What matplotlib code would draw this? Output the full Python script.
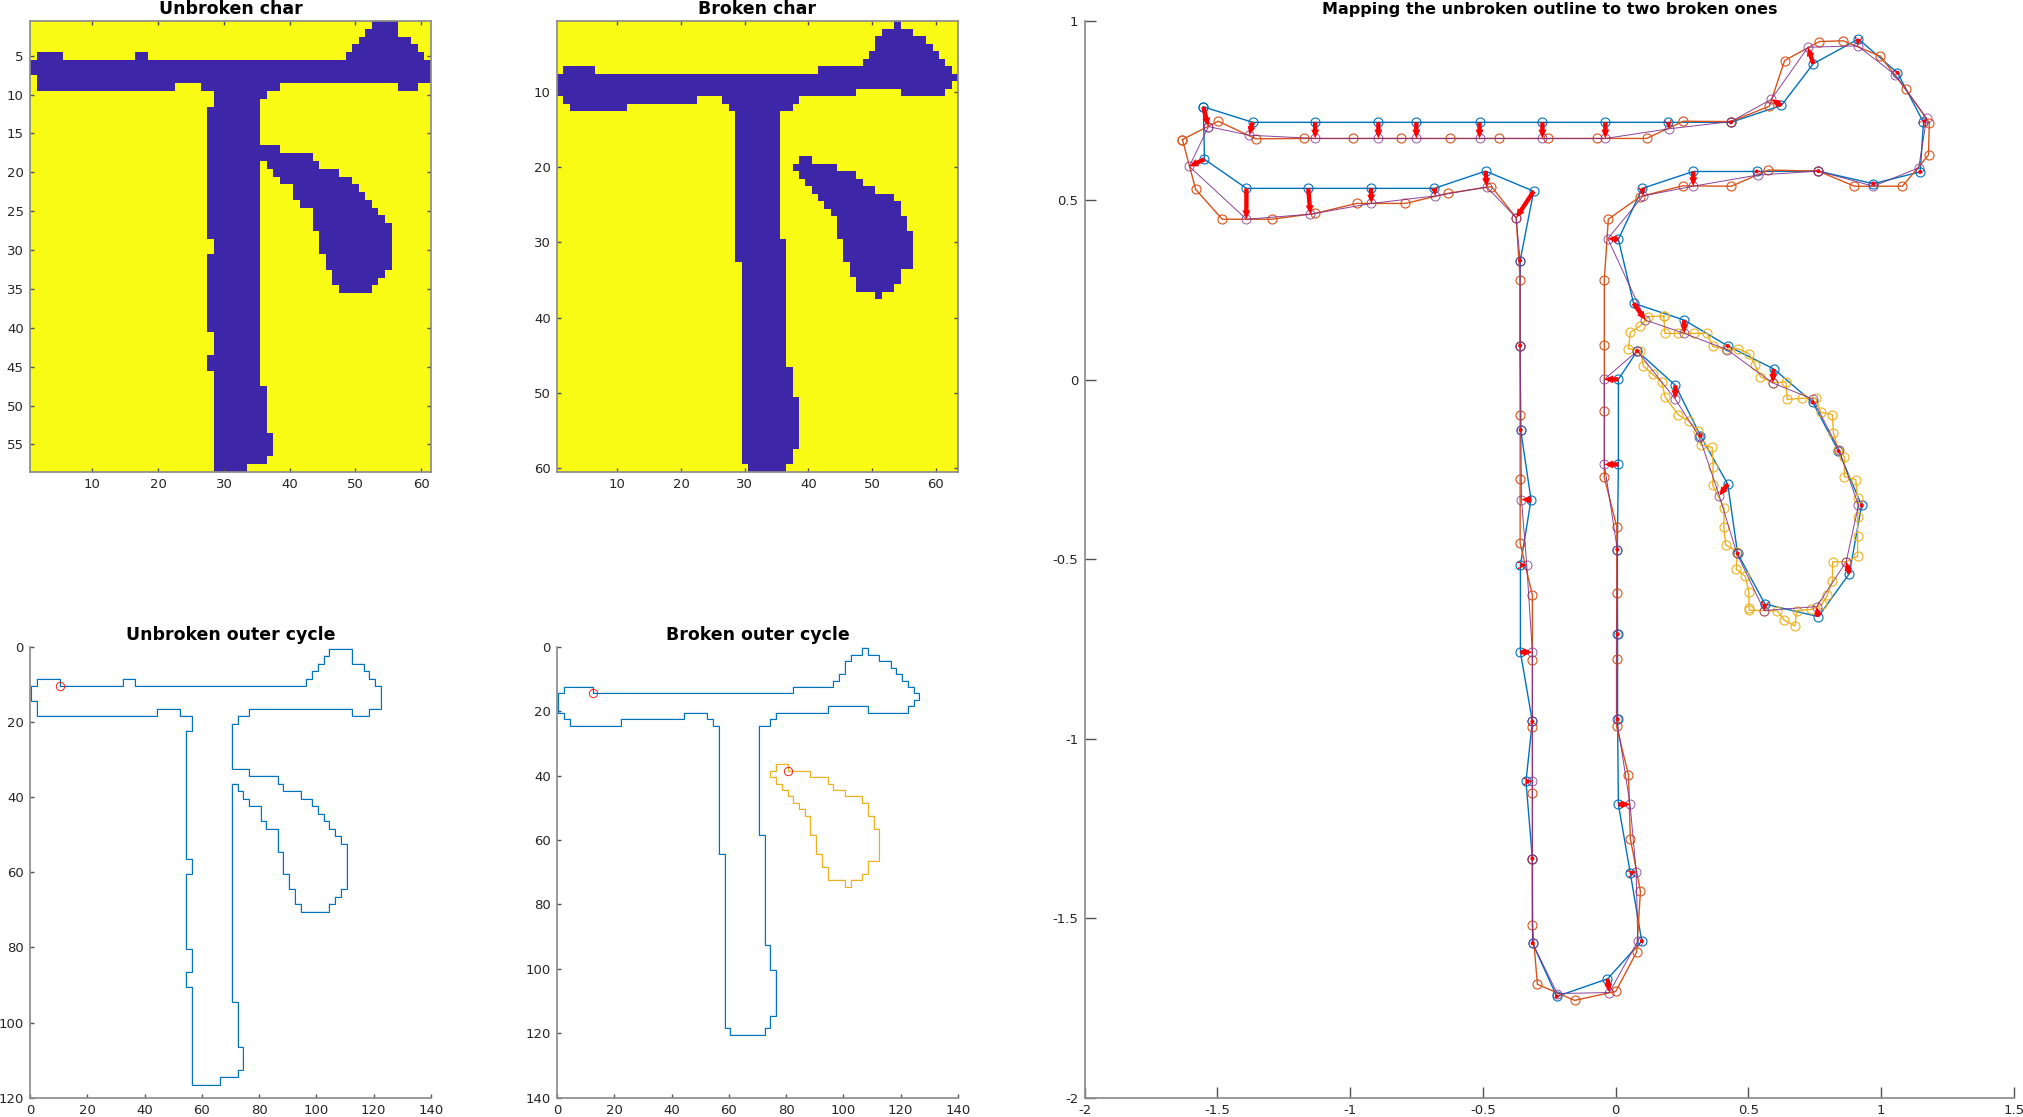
import numpy as np
import matplotlib
matplotlib.use("Agg")
import matplotlib.pyplot as plt
from matplotlib.colors import ListedColormap

plt.rcParams['font.family'] = ['DejaVu Sans']
plt.rcParams['axes.unicode_minus'] = False

# Pixel runs of the dark strokes: (first row, last row, first col, last col), 1-based
unbroken_runs = [
    (1,1,53,56),(2,2,52,56),(3,3,51,58),(4,4,50,59),(5,5,2,5),(5,5,17,18),(5,5,49,60),
    (6,7,1,61),(8,8,2,61),(9,9,2,22),(9,9,27,38),(9,9,57,59),(10,10,29,36),(11,11,29,35),
    (12,28,28,35),(29,30,29,35),(31,40,28,35),(41,43,29,35),(44,45,28,35),(46,47,29,35),
    (48,53,29,36),(54,56,29,37),(57,57,29,36),(58,58,29,33),
    (17,17,36,38),(18,18,36,43),(19,19,37,44),(20,20,38,47),(21,21,39,49),(22,22,41,50),
    (23,23,41,51),(24,24,42,52),(25,25,44,53),(26,26,44,54),(27,27,44,55),(28,30,45,55),
    (31,32,46,55),(33,33,47,54),(34,34,47,53),(35,35,48,52),
]
broken_runs = [
    (1,1,54,54),(2,2,52,56),(3,3,51,58),(4,4,51,59),(5,5,50,60),(6,6,49,61),(7,7,2,6),
    (7,7,42,62),(8,8,1,63),(9,9,1,62),(10,10,1,47),(10,10,55,61),(11,11,2,22),(11,11,27,38),
    (12,12,3,11),(12,12,28,37),(13,29,29,35),(30,32,29,36),(33,46,30,36),(47,50,30,37),
    (51,57,30,38),(58,59,30,37),(60,60,31,36),
    (19,19,39,40),(20,20,38,44),(21,21,39,47),(22,22,40,48),(23,23,41,50),(24,24,42,53),
    (25,25,43,54),(26,26,44,54),(27,28,45,55),(29,29,45,56),(30,32,46,56),(33,33,47,56),
    (34,34,47,54),(35,35,48,54),(36,36,48,53),(37,37,51,51),
]
unbroken_shape = (58, 61)
broken_shape = (60, 63)

# Cycle start points in outline coordinates
unbroken_starts = [(10.5, 10.5)]
broken_starts = [(12.5, 14.5), (80.5, 38.5)]

# Unbroken outline samples
blue_x = [-1.553,-1.367,-1.132,-0.894,-0.751,-0.513,-0.276,-0.039,0.198,0.434,0.624,0.744,0.914,
          1.061,1.159,1.147,0.970,0.763,0.531,0.292,0.100,0.010,0.067,0.258,0.422,0.595,0.742,
          0.839,0.926,0.880,0.763,0.562,0.459,0.422,0.319,0.225,0.081,0.010,0.010,0.006,0.007,
          0.007,0.010,0.055,0.098,-0.031,-0.222,-0.313,-0.314,-0.338,-0.314,-0.359,-0.359,
          -0.319,-0.358,-0.360,-0.360,-0.309,-0.490,-0.683,-0.922,-1.158,-1.391,-1.549]
blue_y = [0.760,0.717,0.717,0.717,0.717,0.717,0.717,0.717,0.717,0.717,0.764,0.880,0.949,
          0.855,0.717,0.579,0.546,0.581,0.580,0.580,0.533,0.391,0.213,0.166,0.094,0.030,-0.063,
          -0.199,-0.350,-0.540,-0.660,-0.625,-0.484,-0.291,-0.156,-0.016,0.080,0.001,-0.236,-0.473,-0.709,
          -0.946,-1.183,-1.375,-1.564,-1.669,-1.718,-1.570,-1.334,-1.119,-0.952,-0.759,-0.517,
          -0.334,-0.140,0.095,0.332,0.525,0.581,0.533,0.533,0.533,0.533,0.614]

# Mapped outline samples (same order as the unbroken ones)
mapped_x = [-1.534,-1.380,-1.132,-0.894,-0.751,-0.513,-0.276,-0.039,0.202,0.434,0.586,0.724,0.911,
            1.053,1.171,1.141,0.970,0.763,0.534,0.292,0.103,-0.030,0.112,0.258,0.419,0.591,0.742,
            0.842,0.914,0.868,0.757,0.559,0.456,0.390,0.315,0.224,0.081,-0.043,-0.043,0.006,0.004,
            0.004,0.054,0.077,0.083,-0.024,-0.220,-0.313,-0.314,-0.314,-0.314,-0.314,-0.335,
            -0.355,-0.357,-0.360,-0.360,-0.375,-0.486,-0.679,-0.920,-1.150,-1.391,-1.606]
mapped_y = [0.705,0.681,0.672,0.672,0.672,0.672,0.672,0.672,0.699,0.719,0.781,0.926,0.930,
            0.849,0.728,0.590,0.539,0.581,0.570,0.539,0.512,0.393,0.166,0.129,0.084,-0.009,-0.054,
            -0.197,-0.350,-0.507,-0.632,-0.643,-0.484,-0.323,-0.159,-0.054,0.080,0.001,-0.236,-0.473,-0.709,
            -0.946,-1.183,-1.370,-1.564,-1.707,-1.710,-1.570,-1.334,-1.119,-0.952,-0.759,-0.517,
            -0.334,-0.140,0.095,0.332,0.451,0.537,0.512,0.491,0.461,0.447,0.594]

# Broken main stroke samples
main_x = [-1.632,-1.497,-1.356,-1.173,-0.988,-0.807,-0.623,-0.438,-0.254,-0.069,0.116,0.255,0.434,
          0.579,0.636,0.767,0.857,0.997,1.092,1.181,1.178,1.080,0.899,0.763,0.575,0.436,0.252,
          0.092,-0.028,-0.043,-0.043,-0.043,-0.043,0.004,0.004,0.003,0.003,0.048,0.055,0.093,
          0.079,0.000,-0.155,-0.295,-0.314,-0.314,-0.314,-0.314,-0.314,-0.314,-0.360,-0.360,
          -0.360,-0.360,-0.360,-0.375,-0.468,-0.633,-0.792,-0.976,-1.133,-1.296,-1.482,-1.582]
main_y = [0.669,0.720,0.671,0.672,0.672,0.672,0.672,0.672,0.672,0.672,0.672,0.720,0.719,
          0.762,0.889,0.942,0.944,0.901,0.809,0.716,0.626,0.539,0.539,0.581,0.584,0.539,0.540,
          0.510,0.447,0.279,0.097,-0.087,-0.272,-0.410,-0.595,-0.779,-0.965,-1.101,-1.278,-1.425,
          -1.594,-1.704,-1.729,-1.684,-1.519,-1.334,-1.152,-0.968,-0.782,-0.600,-0.456,-0.276,
          -0.097,0.095,0.277,0.451,0.538,0.519,0.491,0.491,0.463,0.447,0.447,0.530]

# Broken blob samples
blob_x = [0.181,0.123,0.093,0.055,0.048,0.093,0.104,0.139,0.173,0.186,0.236,0.275,0.308,0.321,
          0.363,0.367,0.365,0.408,0.407,0.414,0.458,0.454,0.488,0.501,0.502,0.503,0.559,0.609,
          0.635,0.675,0.681,0.736,0.777,0.797,0.816,0.817,0.868,0.911,0.911,0.911,0.911,0.904,
          0.861,0.861,0.839,0.820,0.816,0.772,0.753,0.701,0.646,0.641,0.591,0.545,0.525,0.503,
          0.462,0.414,0.365,0.345,0.295,0.235,0.185]
blob_y = [0.177,0.176,0.150,0.132,0.086,0.080,0.038,0.015,-0.006,-0.048,-0.098,-0.115,-0.143,-0.182,
          -0.188,-0.242,-0.294,-0.358,-0.410,-0.460,-0.479,-0.528,-0.548,-0.590,-0.637,-0.642,-0.643,-0.644,
          -0.670,-0.686,-0.643,-0.640,-0.625,-0.600,-0.561,-0.507,-0.507,-0.492,-0.436,-0.383,-0.330,-0.278,
          -0.270,-0.214,-0.196,-0.149,-0.097,-0.091,-0.052,-0.052,-0.055,-0.006,-0.008,0.008,0.040,0.072,
          0.086,0.085,0.093,0.129,0.129,0.129,0.129]

# Axis ticks
top_left_xticks = [10,20,30,40,50,60]
top_left_yticks = [5,10,15,20,25,30,35,40,45,50,55]
top_mid_xticks = [10,20,30,40,50,60]
top_mid_yticks = [10,20,30,40,50,60]
cycle_xticks = [0,20,40,60,80,100,120,140]
cycle_left_yticks = [0,20,40,60,80,100,120]
cycle_mid_yticks = [0,20,40,60,80,100,120,140]
map_xticks = [-2,-1.5,-1,-0.5,0,0.5,1,1.5]
map_yticks = [-2,-1.5,-1,-0.5,0,0.5,1]
map_xlabels = ['-2','-1.5','-1','-0.5','0','0.5','1','1.5']
map_ylabels = ['-2','-1.5','-1','-0.5','0','0.5','1']

W, H = 2024, 1117
BLUE, ORANGE, YELLOW, PURPLE = '#0072BD', '#D95319', '#EDB120', '#7E2F8E'
SPINE = '#8C8C8C'
TEXT = '#262626'
PX = 0.72  # points per pixel at dpi 100


def mask_from(runs, shape):
    m = np.zeros(shape, dtype=int)
    for r0, r1, c0, c1 in runs:
        m[r0 - 1:r1, c0 - 1:c1] = 1
    return m


def outline(mask, start):
    """Walk the border of the stroke that has `start` on it; doubled grid, +0.5."""
    nr, nc = mask.shape
    f = lambda r, c: 0 <= r < nr and 0 <= c < nc and mask[r, c]
    nxt = {}
    for r in range(nr):
        for c in range(nc):
            if not mask[r, c]:
                continue
            if not f(r - 1, c):
                nxt.setdefault((c, r), []).append((c + 1, r))
            if not f(r, c + 1):
                nxt.setdefault((c + 1, r), []).append((c + 1, r + 1))
            if not f(r + 1, c):
                nxt.setdefault((c + 1, r + 1), []).append((c, r + 1))
            if not f(r, c - 1):
                nxt.setdefault((c, r + 1), []).append((c, r))
    p0 = (int((start[0] - 0.5) / 2), int((start[1] - 0.5) / 2))
    path = [p0]
    p = nxt[p0].pop()
    while p != p0:
        path.append(p)
        p = nxt[p].pop()
    path.append(p0)
    a = np.array(path, float) * 2 + 0.5
    return a[:, 0], a[:, 1]


def add_axes(l, r, t, b):
    return fig.add_axes([l / W, 1 - b / H, (r - l) / W, (b - t) / H])


def style(ax, xt, yt, box, ticklen=4.0):
    ax.set_xticks(xt)
    ax.set_yticks(yt)
    for s in ax.spines.values():
        s.set_color(SPINE)
        s.set_linewidth(1.25)
    if not box:
        ax.spines['top'].set_visible(False)
        ax.spines['right'].set_visible(False)
    ax.tick_params(direction='in', length=ticklen * PX, width=1.0, color='#505050',
                   labelsize=9.5, labelcolor=TEXT, pad=4.5, top=box, right=box)


fig = plt.figure(figsize=(W / 100, H / 100), dpi=100, facecolor='white')
parula = ListedColormap(['#3E26A8', '#F9FB15'])

# Top images
for (l, r), runs, shape, title, xt, yt in [
    ((30, 431), unbroken_runs, unbroken_shape, 'Unbroken char', top_left_xticks, top_left_yticks),
    ((557, 958), broken_runs, broken_shape, 'Broken char', top_mid_xticks, top_mid_yticks),
]:
    ax = add_axes(l, r, 20.7, 471.7)
    m = mask_from(runs, shape)
    ax.imshow(1 - m, cmap=parula, vmin=0, vmax=1, aspect='auto', interpolation='nearest',
              extent=(0.5, shape[1] + 0.5, shape[0] + 0.5, 0.5))
    style(ax, xt, yt, True)
    ax.set_title(title, fontsize=12.5, fontweight='bold', pad=4.6, color='black')

# Bottom outlines
for (l, r), runs, shape, starts, title, ymax, yt in [
    ((30, 431), unbroken_runs, unbroken_shape, unbroken_starts, 'Unbroken outer cycle', 120, cycle_left_yticks),
    ((557, 958), broken_runs, broken_shape, broken_starts, 'Broken outer cycle', 140, cycle_mid_yticks),
]:
    ax = add_axes(l, r, 646.7, 1097.7)
    m = mask_from(runs, shape)
    for start, col in zip(starts, [BLUE, YELLOW]):
        xs, ys = outline(m, start)
        ax.plot(xs, ys, color=col, lw=1.7, alpha=0.16)
        ax.plot(xs, ys, color=col, lw=0.75, solid_joinstyle='miter')
        ax.plot([start[0]], [start[1]], 'o', mfc='none', mec='#F02020', ms=6.0, mew=0.7)
    ax.set_xlim(0, 140)
    ax.set_ylim(ymax, 0)
    style(ax, cycle_xticks, yt, False)
    ax.set_title(title, fontsize=12.5, fontweight='bold', pad=4.8, color='black')

# Mapping panel
ax = add_axes(1084.7, 2014, 20.7, 1097.7)


def closed(a):
    return list(a) + [a[0]]


mk = dict(marker='o', mfc='none', ms=6.5, mew=0.8)
ax.plot(closed(blue_x), closed(blue_y), color=BLUE, lw=1.0, **mk)
ax.plot(closed(main_x), closed(main_y), color=ORANGE, lw=1.0, **mk)
ax.plot(closed(blob_x), closed(blob_y), color=YELLOW, lw=1.0, **mk)
ax.plot(closed(mapped_x), closed(mapped_y), color=PURPLE, lw=0.7,
        marker='o', mfc='none', ms=6.5, mew=0.6, alpha=0.9)
bx, by, mx, my = map(np.array, (blue_x, blue_y, mapped_x, mapped_y))
ax.quiver(bx, by, mx - bx, my - by, angles='xy', scale_units='xy', scale=1, color='#FF0000',
          units='dots', width=4.4, headwidth=1.8, headlength=2.0, headaxislength=2.0,
          minlength=1.0, minshaft=0.5, zorder=5)
ax.set_xlim(-2, 1.5)
ax.set_ylim(-2, 1)
style(ax, map_xticks, map_yticks, False, ticklen=11)
ax.set_xticklabels(map_xlabels)
ax.set_yticklabels(map_ylabels)
ax.set_title('Mapping the unbroken outline to two broken ones', fontsize=11.5, fontweight='bold',
             pad=4.8, color='black')

fig.savefig('out.png', dpi=100, facecolor='white')
